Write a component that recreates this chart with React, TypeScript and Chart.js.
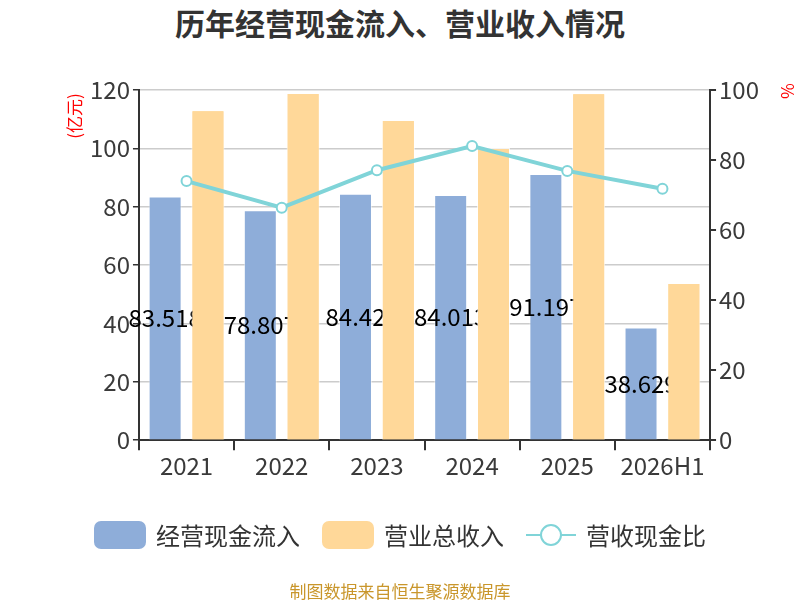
import { useEffect, useRef } from "react"
import { Chart, registerables } from "chart.js"

Chart.register(...registerables)

const FONT = '"Noto Sans CJK SC", "Noto Sans", sans-serif'

// chart data
const years = ["2021", "2022", "2023", "2024", "2025", "2026H1"]
const cashInflow = [83.518, 78.807, 84.42, 84.013, 91.197, 38.629]
const revenue = [113.1, 119.0, 109.7, 100.1, 118.9, 53.9]
const cashRatio = [74.0, 66.4, 77.1, 84.0, 76.9, 71.8]
const leftTicks = [0, 20, 40, 60, 80, 100, 120]
const rightTicks = [0, 20, 40, 60, 80, 100]

const BLUE = "rgb(142, 173, 217)"
const ORANGE = "rgb(255, 216, 153)"
const TEAL = "rgb(128, 212, 216)"
const AXIS = "#333"
const TICK_TEXT = "#3a3a3a"

// value labels sit on the blue bars but under the orange ones,
// so draw them after the blue bars and paint the orange bars again on top
const barLabels = {
  id: "barLabels",
  afterDatasetDraw(chart: any, args: any) {
    if (args.index !== 0) return
    const ctx = chart.ctx
    const meta = chart.getDatasetMeta(0)
    ctx.save()
    ctx.font = `24px ${FONT}`
    ctx.fillStyle = "#000"
    ctx.textAlign = "center"
    ctx.textBaseline = "middle"
    meta.data.forEach((bar: any, i: number) => {
      ctx.fillText(String(cashInflow[i]), bar.x, (bar.y + bar.base) / 2)
    })
    ctx.restore()
    const orange = chart.getDatasetMeta(1)
    orange.data.forEach((el: any) => el.draw(ctx, chart.chartArea))
  },
}

// red unit captions next to both value axes
const unitLabels = {
  id: "unitLabels",
  afterDraw(chart: any) {
    const ctx = chart.ctx
    ctx.save()
    ctx.fillStyle = "#ff0000"
    ctx.font = `17px ${FONT}`
    ctx.textAlign = "center"
    ctx.textBaseline = "middle"
    ctx.translate(75, 116)
    ctx.rotate(-Math.PI / 2)
    ctx.fillText("(亿元)", 0, 0)
    ctx.restore()
    ctx.save()
    ctx.fillStyle = "#ff0000"
    ctx.font = `17px ${FONT}`
    ctx.textAlign = "center"
    ctx.textBaseline = "middle"
    ctx.translate(787, 91)
    ctx.rotate(Math.PI / 2)
    ctx.fillText("%", 0, 0)
    ctx.restore()
  },
}

function CashChart() {
  const chartRef = useRef<HTMLCanvasElement>(null)
  const chartInstance = useRef<Chart | null>(null)

  useEffect(() => {
    if (!chartRef.current) return
    if (chartInstance.current) chartInstance.current.destroy()

    const ctx = chartRef.current.getContext("2d")
    if (!ctx) return

    chartInstance.current = new Chart(ctx, {
      type: "bar",
      data: {
        labels: years,
        datasets: [
          {
            label: "经营现金流入",
            data: cashInflow,
            backgroundColor: BLUE,
            borderColor: "rgba(255,255,255,0.5)",
            borderWidth: 1,
            yAxisID: "y",
            order: 1,
            categoryPercentage: 0.9,
            barPercentage: 0.77,
          },
          {
            label: "营业总收入",
            data: revenue,
            backgroundColor: ORANGE,
            borderColor: "rgba(255,255,255,0.5)",
            borderWidth: 1,
            yAxisID: "y",
            order: 2,
            categoryPercentage: 0.9,
            barPercentage: 0.77,
          },
          {
            type: "line",
            label: "营收现金比",
            data: cashRatio,
            borderColor: TEAL,
            borderWidth: 4,
            pointRadius: 5,
            pointBorderWidth: 2,
            pointBackgroundColor: "#fff",
            pointBorderColor: TEAL,
            yAxisID: "y1",
            order: 0,
            tension: 0,
          } as any,
        ],
      },
      options: {
        animation: false,
        responsive: false,
        maintainAspectRatio: false,
        layout: {
          padding: { left: 87, right: 38, top: 90, bottom: 119 },
        },
        plugins: {
          legend: { display: false },
          tooltip: { enabled: false },
          title: { display: false },
        },
        scales: {
          x: {
            offset: true,
            grid: {
              offset: true,
              drawOnChartArea: false,
              tickLength: 10,
              tickColor: AXIS,
              lineWidth: 2,
            },
            border: { color: AXIS, width: 2 },
            ticks: {
              color: TICK_TEXT,
              font: { family: FONT, size: 24 },
              padding: 1,
              maxRotation: 0,
              autoSkip: false,
            },
          },
          y: {
            position: "left",
            min: 0,
            max: 120,
            afterBuildTicks: (axis: any) => {
              axis.ticks = leftTicks.map((v) => ({ value: v }))
            },
            grid: {
              color: "#cccccc",
              lineWidth: 1.5,
              tickLength: 6,
              tickColor: AXIS,
            },
            border: { color: AXIS, width: 2 },
            ticks: {
              color: TICK_TEXT,
              font: { family: FONT, size: 24 },
              padding: 3,
            },
          },
          y1: {
            position: "right",
            min: 0,
            max: 100,
            afterBuildTicks: (axis: any) => {
              axis.ticks = rightTicks.map((v) => ({ value: v }))
            },
            grid: {
              drawOnChartArea: false,
              tickLength: 6,
              tickColor: AXIS,
              lineWidth: 2,
            },
            border: { color: AXIS, width: 2 },
            ticks: {
              color: TICK_TEXT,
              font: { family: FONT, size: 24 },
              padding: 3,
            },
          },
        },
      },
      plugins: [barLabels, unitLabels],
    })

    return () => {
      if (chartInstance.current) {
        chartInstance.current.destroy()
        chartInstance.current = null
      }
    }
  }, [])

  return <canvas ref={chartRef} width={800} height={600} style={{ position: "absolute", left: 0, top: 0 }} />
}

function Legend() {
  const text = { fontSize: 24, color: "#333", marginLeft: 10 }
  const box = (color: string) => ({
    width: 52,
    height: 28,
    borderRadius: 7,
    background: color,
  })
  return (
    <div
      style={{
        position: "absolute",
        left: 0,
        top: 516,
        width: 800,
        display: "flex",
        justifyContent: "center",
        alignItems: "center",
        fontFamily: FONT,
        lineHeight: "38px",
      }}
    >
      <div style={box(BLUE)} />
      <span style={text}>经营现金流入</span>
      <div style={{ ...box(ORANGE), marginLeft: 22 }} />
      <span style={text}>营业总收入</span>
      <div style={{ position: "relative", width: 50, height: 28, marginLeft: 22 }}>
        <div style={{ position: "absolute", left: 0, top: 13, width: 50, height: 2, background: TEAL }} />
        <div
          style={{
            position: "absolute",
            left: 14,
            top: 3,
            width: 18,
            height: 18,
            borderRadius: "50%",
            border: `2px solid ${TEAL}`,
            background: "#fff",
          }}
        />
      </div>
      <span style={text}>营收现金比</span>
    </div>
  )
}

export default function App() {
  useEffect(() => {
    document.body.style.margin = "0"
  }, [])

  return (
    <div style={{ position: "relative", width: 800, height: 600, background: "#fff", overflow: "hidden" }}>
      <div
        style={{
          position: "absolute",
          left: 0,
          top: 0,
          width: 800,
          textAlign: "center",
          fontFamily: FONT,
          fontWeight: "bold",
          fontSize: 30,
          color: "#333",
        }}
      >
        历年经营现金流入、营业收入情况
      </div>
      <CashChart />
      <Legend />
      <div
        style={{
          position: "absolute",
          left: 0,
          top: 578,
          width: 800,
          textAlign: "center",
          fontFamily: FONT,
          fontSize: 17,
          color: "#C9962B",
        }}
      >
        制图数据来自恒生聚源数据库
      </div>
    </div>
  )
}
